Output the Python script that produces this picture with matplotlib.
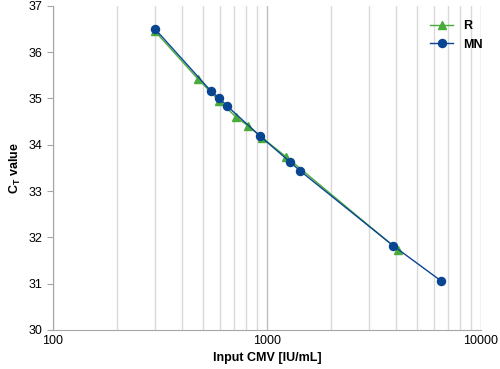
import numpy as np
import matplotlib.pyplot as plt
from matplotlib.ticker import FixedLocator, NullFormatter

plt.rcParams['font.family'] = ['Liberation Sans', 'DejaVu Sans']

# R series (green triangles)
r_x = [300, 476, 597, 716, 815, 950, 1228, 4090]
r_y = [36.45, 35.42, 34.95, 34.60, 34.41, 34.15, 33.74, 31.73]

# MN series (blue circles)
mn_x = [300, 547, 597, 650, 927, 1280, 1425, 3885, 6500]
mn_y = [36.50, 35.16, 35.01, 34.84, 34.19, 33.63, 33.44, 31.82, 31.06]

fig = plt.figure(figsize=(5, 3.69), dpi=100)
ax = fig.add_axes([0.106, 0.106, 0.856, 0.878])

ax.set_xscale('log')
ax.set_xlim(100, 10000)
ax.set_ylim(30, 37)

minor = [m * d for d in (100, 1000) for m in range(2, 10)]
ax.xaxis.set_minor_locator(FixedLocator(minor))
ax.xaxis.set_minor_formatter(NullFormatter())
ax.set_xticks([100, 1000, 10000])
ax.set_xticklabels(['100', '1000', '10000'])
ax.grid(True, which='minor', axis='x', color='#d9d9d9', lw=1)
ax.grid(True, which='major', axis='x', color='#bfbfbf', lw=1)
ax.set_axisbelow(True)

ax.plot(r_x, r_y, color='#4aab3c', lw=1.0, marker='^', ms=5.5, label='R', zorder=3)
ax.plot(mn_x, mn_y, color='#0a4592', lw=1.0, marker='o', ms=5.8, label='MN', zorder=4)

ax.set_xlabel('Input CMV [IU/mL]', fontsize=9, fontweight='bold')
ax.set_ylabel('C$_\\mathregular{T}$ value', fontsize=9, fontweight='bold')
ax.tick_params(axis='both', labelsize=9, color='#a6a6a6', length=4)
ax.tick_params(axis='x', which='both', length=0)
for s in ('top', 'right'):
    ax.spines[s].set_visible(False)
for s in ('left', 'bottom'):
    ax.spines[s].set_color('#a6a6a6')

leg = ax.legend(loc='upper right', frameon=False,
                prop={'weight': 'bold', 'size': 9}, handlelength=1.8,
                bbox_to_anchor=(1.03, 0.99))

fig.savefig('out.png', dpi=100)
